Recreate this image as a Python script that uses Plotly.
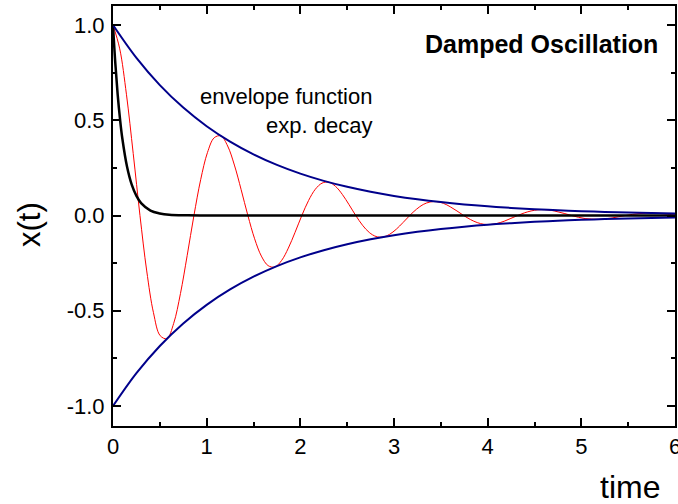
import plotly.graph_objects as go

# --- damped oscillation x(t), sampled every sixteenth of a period (dt = 0.072) ---
t_osc = [0.000, 0.072, 0.144, 0.216, 0.288, 0.360, 0.432, 0.504,
         0.576, 0.648, 0.720, 0.792, 0.864, 0.936, 1.008, 1.080,
         1.152, 1.224, 1.296, 1.368, 1.440, 1.512, 1.584, 1.656,
         1.728, 1.800, 1.872, 1.944, 2.016, 2.088, 2.160, 2.232,
         2.304, 2.376, 2.448, 2.520, 2.592, 2.664, 2.736, 2.808,
         2.880, 2.952, 3.024, 3.096, 3.168, 3.240, 3.312, 3.384,
         3.456, 3.528, 3.600, 3.672, 3.744, 3.816, 3.888, 3.960,
         4.032, 4.104, 4.176, 4.248, 4.320, 4.392, 4.464, 4.536,
         4.608, 4.680, 4.752, 4.824, 4.896, 4.968, 5.040, 5.112,
         5.184, 5.256, 5.328, 5.400, 5.472, 5.544, 5.616, 5.688,
         5.760, 5.832, 5.904, 5.976, 6.000]
x_osc = [1.000, 0.875, 0.634, 0.325, 0.000, -0.291, -0.510, -0.631,
         -0.646, -0.566, -0.410, -0.210, 0.000, 0.188, 0.330, 0.408,
         0.418, 0.365, 0.265, 0.136, 0.000, -0.122, -0.213, -0.263,
         -0.270, -0.236, -0.171, -0.088, 0.000, 0.079, 0.138, 0.170,
         0.175, 0.153, 0.111, 0.057, 0.000, -0.051, -0.089, -0.110,
         -0.113, -0.099, -0.072, -0.037, 0.000, 0.033, 0.058, 0.071,
         0.073, 0.064, 0.046, 0.024, 0.000, -0.021, -0.037, -0.046,
         -0.047, -0.041, -0.030, -0.015, 0.000, 0.014, 0.024, 0.030,
         0.031, 0.027, 0.019, 0.010, 0.000, -0.009, -0.016, -0.019,
         -0.020, -0.017, -0.013, -0.006, 0.000, 0.006, 0.010, 0.012,
         0.013, 0.011, 0.008, 0.004, 0.003]

# --- envelope function (upper branch; lower branch is its mirror) ---
t_env = [0.00, 0.25, 0.50, 0.75, 1.00, 1.25, 1.50, 1.75, 2.00,
         2.25, 2.50, 2.75, 3.00, 3.25, 3.50, 3.75, 4.00, 4.25,
         4.50, 4.75, 5.00, 5.25, 5.50, 5.75, 6.00]
env_upper = [1.0000, 0.8275, 0.6847, 0.5666, 0.4689, 0.3880, 0.3211,
             0.2657, 0.2199, 0.1819, 0.1506, 0.1246, 0.1031, 0.0853,
             0.0706, 0.0584, 0.0483, 0.0400, 0.0331, 0.0274, 0.0227,
             0.0188, 0.0155, 0.0128, 0.0106]
env_lower = [-v for v in env_upper]

# --- fast exponential decay ---
t_dec = [0.000, 0.025, 0.050, 0.075, 0.100, 0.150, 0.200, 0.250,
         0.300, 0.400, 0.500, 0.600, 0.800, 1.000, 1.500, 2.000,
         3.000, 4.000, 5.000, 6.000]
x_dec = [1.000, 0.797, 0.635, 0.506, 0.403, 0.256, 0.162, 0.103,
         0.065, 0.026, 0.011, 0.004, 0.001, 0.000, 0.000, 0.000,
         0.000, 0.000, 0.000, 0.000]

# axis ticks
x_major = [0, 1, 2, 3, 4, 5, 6]
x_minor = [0.5, 1.5, 2.5, 3.5, 4.5, 5.5]
y_major = [-1.0, -0.5, 0.0, 0.5, 1.0]
y_labels = ["-1.0", "-0.5", "0.0", "0.5", "1.0"]
y_minor = [-0.75, -0.25, 0.25, 0.75]

FONT = "Liberation Sans, Arial, sans-serif"
NAVY = "#00008B"

fig = go.Figure()
fig.add_trace(go.Scatter(x=t_osc, y=x_osc, mode="lines",
                         line=dict(color="#FF0000", width=1, shape="spline")))
fig.add_trace(go.Scatter(x=t_dec, y=x_dec, mode="lines",
                         line=dict(color="#000000", width=2.5, shape="spline")))
fig.add_trace(go.Scatter(x=t_env, y=env_upper, mode="lines",
                         line=dict(color=NAVY, width=2, shape="spline")))
fig.add_trace(go.Scatter(x=t_env, y=env_lower, mode="lines",
                         line=dict(color=NAVY, width=2, shape="spline")))

axis_common = dict(
    showline=True, linecolor="#000000", linewidth=2, mirror="ticks",
    showgrid=False, zeroline=False, automargin=False,
    ticks="inside", ticklen=8, tickwidth=1.5, tickcolor="#000000",
    tickfont=dict(family=FONT, size=22, color="#000000"),
    ticklabeloverflow="allow",
)

fig.update_layout(
    width=678, height=504,
    margin=dict(l=113, r=3, t=6, b=78, autoexpand=False),
    paper_bgcolor="white", plot_bgcolor="white",
    showlegend=False,
    xaxis=dict(range=[0, 6], tickmode="array", tickvals=x_major,
               ticktext=[str(v) for v in x_major],
               minor=dict(tickmode="array", tickvals=x_minor, ticks="inside",
                          ticklen=4, tickwidth=1.5, tickcolor="#000000"),
               **axis_common),
    yaxis=dict(range=[-1.105, 1.1], tickmode="array", tickvals=y_major,
               ticktext=y_labels, ticklabelstandoff=2,
               minor=dict(tickmode="array", tickvals=y_minor, ticks="inside",
                          ticklen=4, tickwidth=1.5, tickcolor="#000000"),
               **axis_common),
    annotations=[
        dict(text="<b>Damped Oscillation</b>", x=5.84, y=0.9, xref="x", yref="y",
             xanchor="right", yanchor="middle", showarrow=False,
             font=dict(family=FONT, size=25, color="#000000")),
        dict(text="envelope function<br>exp. decay", x=2.79, y=0.55,
             xref="x", yref="y", xanchor="right", yanchor="middle",
             align="right", showarrow=False,
             font=dict(family=FONT, size=22, color="#000000")),
        dict(text="x(t)", x=-0.1477, y=0.481, xref="paper", yref="paper",
             xanchor="center", yanchor="middle", textangle=-90,
             showarrow=False, font=dict(family=FONT, size=31, color="#000000")),
        dict(text="time", x=0.977, y=-0.145, xref="paper", yref="paper",
             xanchor="right", yanchor="middle", showarrow=False,
             font=dict(family=FONT, size=32, color="#000000")),
    ],
)

fig.write_html("out.html")
